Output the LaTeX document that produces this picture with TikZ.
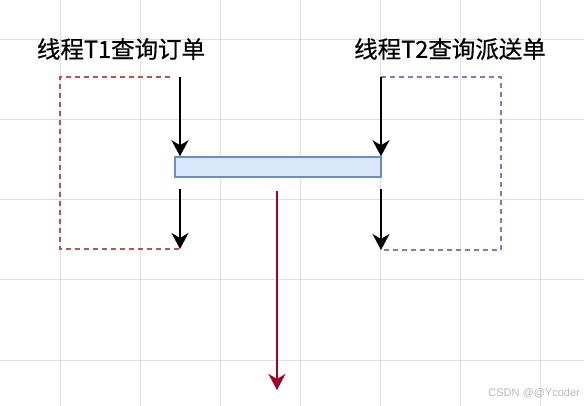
\documentclass[tikz,border=0pt]{standalone}
\usepackage{xcolor}
\usepackage{fontspec}
\usepackage{tikz}
\usetikzlibrary{arrows.meta}
\newfontfamily\cjk[FakeBold=0.6]{Noto Sans CJK SC}
\newfontfamily\marksans{Liberation Sans}
\definecolor{gridgray}{HTML}{E0E0E0}
\definecolor{boxfill}{HTML}{DAE8FC}
\definecolor{boxline}{HTML}{6C8EBF}
\definecolor{tonered}{HTML}{B85450}
\definecolor{tonepurple}{HTML}{9673A6}
\definecolor{crimson}{HTML}{A20025}

\begin{document}
\begin{tikzpicture}[x=1pt,y=-1pt,
    flow/.style={line width=2pt, -{Stealth[length=16pt,width=17pt,inset=5pt]}},
    loopline/.style={line width=1.5pt, dash pattern=on 5pt off 4pt},
    buffer/.style={draw=boxline, fill=boxfill, line width=1.5pt, minimum width=206pt, minimum height=20pt, inner sep=0pt},
    title/.style={font=\cjk\fontsize{23.5}{26}\selectfont, inner sep=0pt}]
    % Page and background grid
    \useasboundingbox (0,0) rectangle (584,406);
    \fill[white] (0,0) rectangle (584,406);
    \foreach \x in {60,140,...,540} \draw[gridgray, line width=1pt] (\x,0) -- (\x,406);
    \foreach \y in {40,120,...,360} \draw[gridgray, line width=1pt] (0,\y) -- (584,\y);

    % Thread labels
    \node[title] (t1label) at (121,49) {线程T1查询订单};
    \node[title] (t2label) at (450,49) {线程T2查询派送单};

    % Shared box
    \node[buffer] (buf) at (278,167) {};

    % Thread T1
    \coordinate (t1top) at (180,77);
    \coordinate (t1mid) at (180,189);
    \coordinate (t1bot) at (180,249);
    \draw[tonered, loopline] (170,77) -- (60,77) -- (60,249) -- (t1bot);
    \draw[flow] (t1top) -- (t1top |- buf.north);
    \draw[flow] (t1mid) -- (t1bot);

    % Thread T2
    \coordinate (t2top) at (381,77);
    \coordinate (t2mid) at (381,189);
    \coordinate (t2bot) at (381,250);
    \draw[tonepurple, loopline] (t2top) -- (501,77) -- (501,250) -- (t2bot);
    \draw[flow] (t2top) -- (t2top |- buf.north);
    \draw[flow] (t2mid) -- (t2bot);

    % Main line
    \coordinate (mainstart) at (277,191);
    \coordinate (mainend) at (277,390);
    \draw[flow, crimson] (mainstart) -- (mainend);

    % Watermark
    \node[text=gray!55, font=\marksans\fontsize{11}{13}\selectfont, anchor=east, inner sep=0pt] (mark) at (580,393) {CSDN @@Ycoder};
\end{tikzpicture}
\end{document}
